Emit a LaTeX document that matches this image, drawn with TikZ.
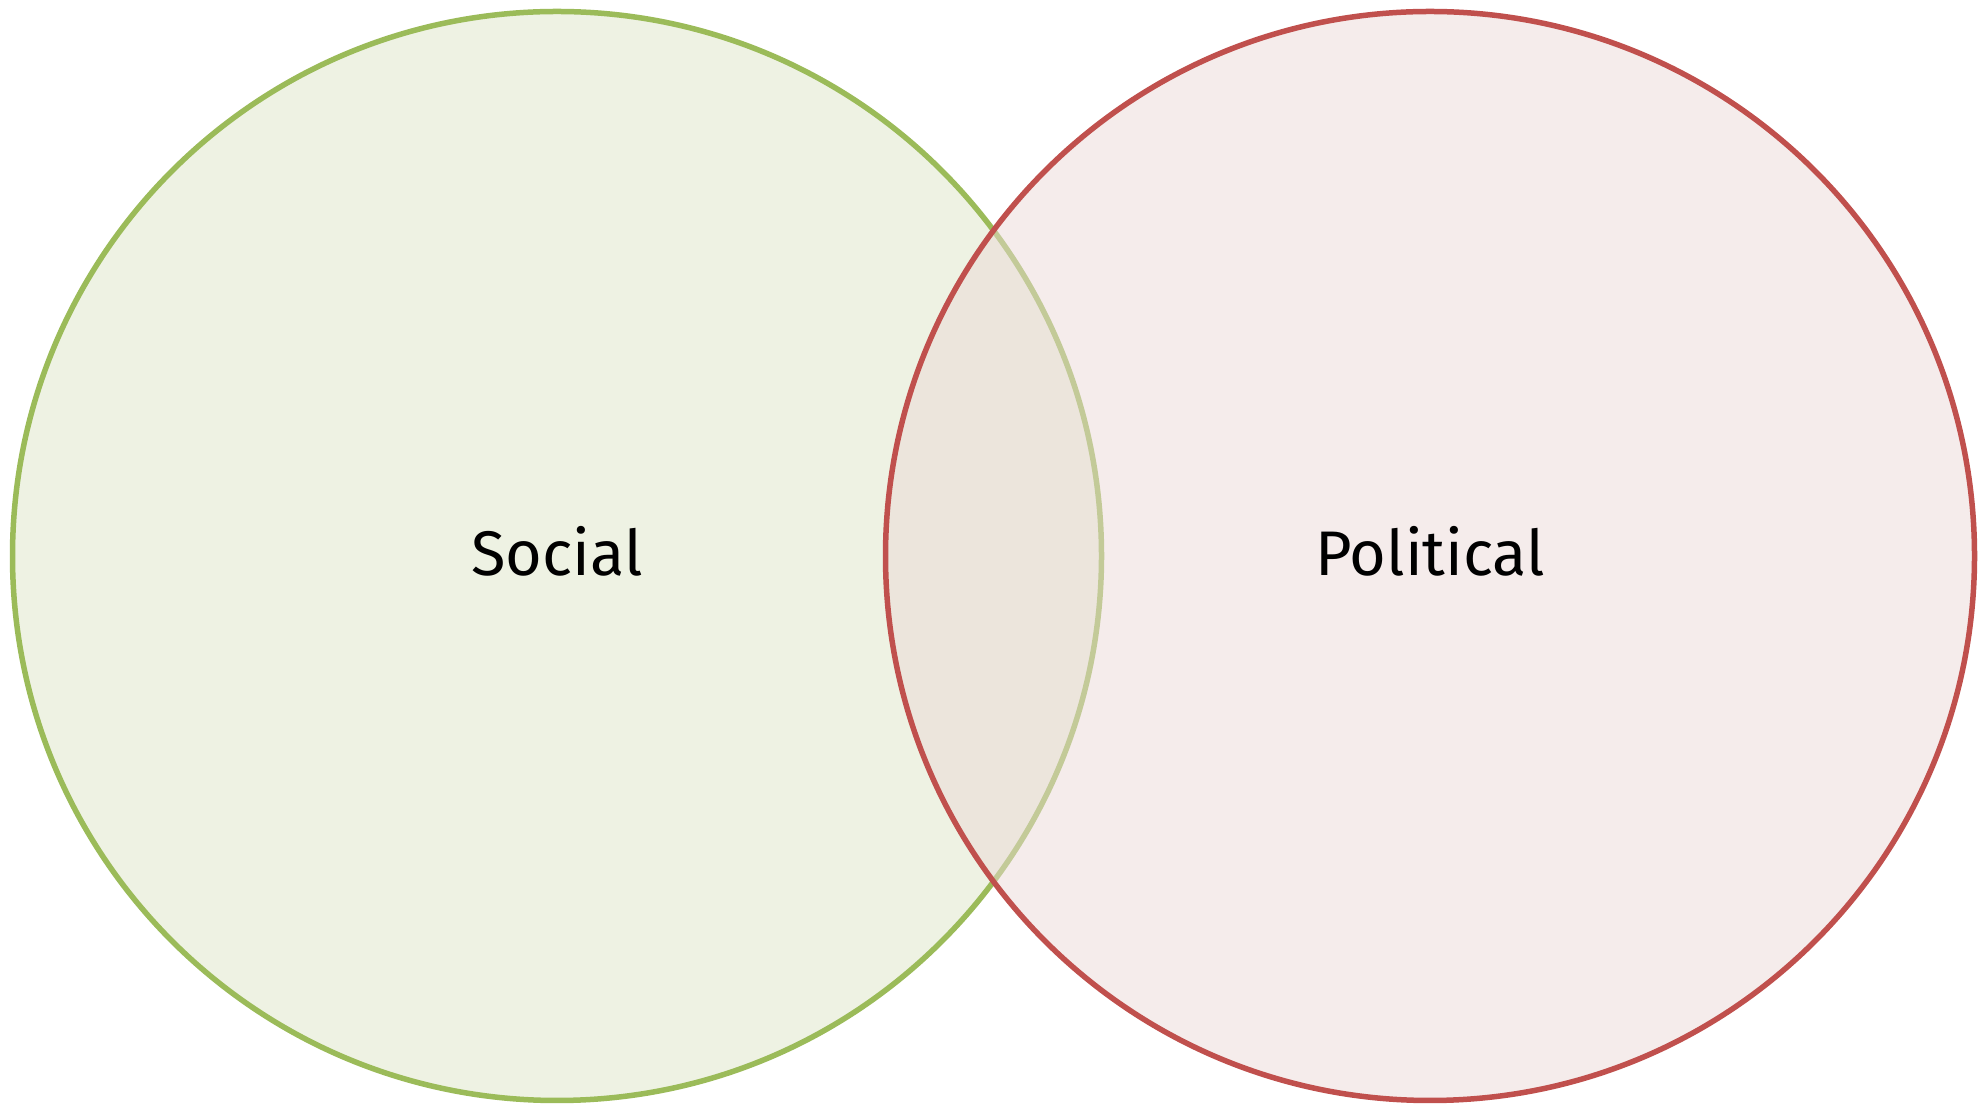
\documentclass[tikz,border=0pt]{standalone}
\usepackage{fontspec}
\setmainfont{Fira Sans}
\definecolor{grline}{HTML}{9BBB59}
\definecolor{grfill}{HTML}{EEF2E3}
\definecolor{rdline}{HTML}{C0504D}
\definecolor{rdfill}{HTML}{EBD9D7}
\begin{document}
\begin{tikzpicture}[x=1pt,y=1pt,
  setcircle/.style={circle,minimum size=1089pt,inner sep=0pt,line width=5.5pt},
  lbl/.style={font=\fontsize{63}{70}\selectfont,anchor=base,inner sep=0pt}]
\useasboundingbox (0,0) rectangle (1986,1105);
\node[setcircle,draw=grline,fill=grfill] (social) at (557,549) {};
\node[setcircle,draw=rdline,fill=rdfill,fill opacity=0.5] (political) at (1430,549) {};
\node[lbl] (tsocial) at (557,529) {Social};
\node[lbl] (tpolitical) at (1430,529) {Political};
\end{tikzpicture}
\end{document}
